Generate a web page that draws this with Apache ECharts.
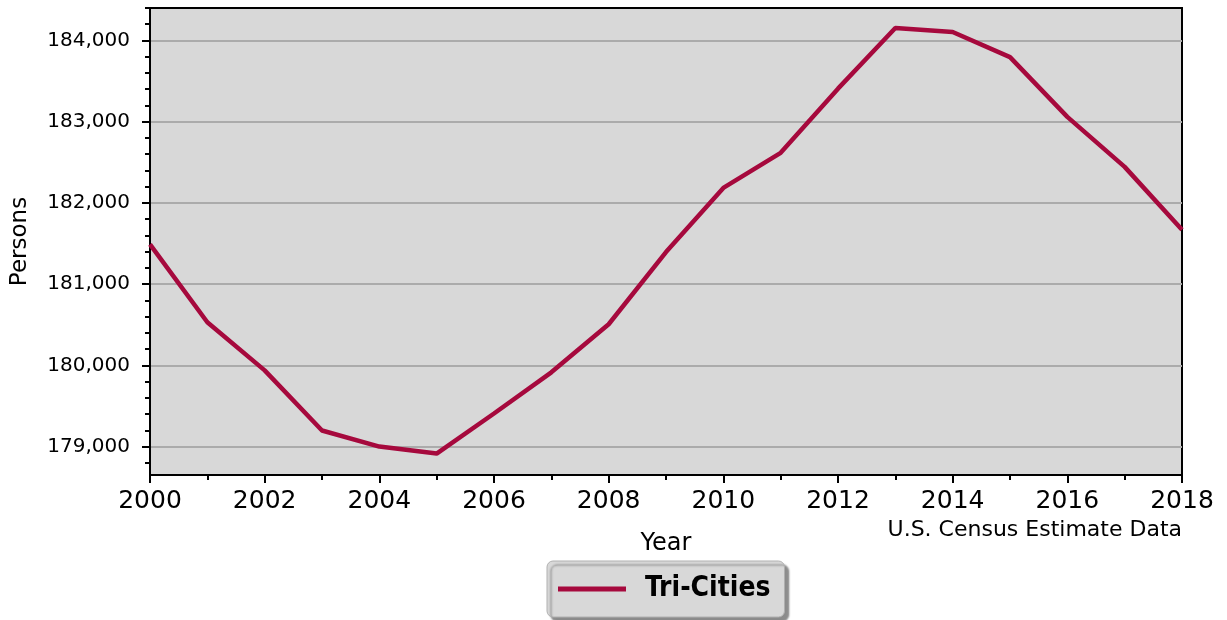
<!DOCTYPE html>
<html>
<head>
<meta charset="utf-8">
<script src="https://cdn.jsdelivr.net/npm/echarts@6/dist/echarts.min.js"></script>
<style>
  html, body { margin: 0; padding: 0; background: #fff; }
  #chart { width: 1227px; height: 620px; }
</style>
</head>
<body>
<div id="chart"></div>
<script>
const years = [2000, 2001, 2002, 2003, 2004, 2005, 2006, 2007, 2008, 2009,
  2010, 2011, 2012, 2013, 2014, 2015, 2016, 2017, 2018];
const persons = [181490, 180531, 179938, 179198, 179000, 178914, 179407, 179914, 180506, 181395,
  182185, 182617, 183407, 184153, 184104, 183795, 183059, 182444, 181670];
const yMajorTicks = [179000, 180000, 181000, 182000, 183000, 184000];
const yMinorTicks = [];
for (let v = 178800; v <= 184400; v += 200) yMinorTicks.push(v);

const yMin = 178650;
const yMax = 184400;
const lineColor = '#a6093d';

const chart = echarts.init(document.getElementById('chart'));

chart.setOption({
  animation: false,
  grid: {
    left: 150,
    right: 45,
    top: 8,
    bottom: 145,
    show: true,
    backgroundColor: '#d8d8d8',
    borderColor: '#000',
    borderWidth: 2,
  },
  legend: {
    data: ['Tri-Cities'],
    left: 547,
    top: 561,
    icon: 'rect',
    itemWidth: 68,
    itemHeight: 5,
    padding: [12, 14, 12, 11],
    backgroundColor: '#d8d8d8',
    borderColor: '#b0b0b0',
    borderWidth: 1,
    borderRadius: 6,
    shadowColor: 'rgba(0,0,0,0.45)',
    shadowOffsetX: 4,
    shadowOffsetY: 4,
    shadowBlur: 2,
    textStyle: {
      fontFamily: 'DejaVu Sans Condensed',
      fontWeight: 'bold',
      fontSize: 28,
      color: '#000',
      lineHeight: 32,
      padding: [0, 0, 0, 14],
    },
  },
  graphic: [
    {
      type: 'text',
      right: 45,
      top: 519,
      style: {
        text: 'U.S. Census Estimate Data',
        font: '22px "DejaVu Sans"',
        fill: '#000',
      },
    },
  ],
  xAxis: {
    type: 'value',
    min: 2000,
    max: 2018,
    interval: 2,
    name: 'Year',
    nameLocation: 'middle',
    nameGap: 57,
    nameTextStyle: { fontFamily: 'DejaVu Sans', fontSize: 24, color: '#000' },
    axisLine: { lineStyle: { color: '#000', width: 2 } },
    axisTick: { length: 8, lineStyle: { color: '#000', width: 2 } },
    minorTick: { show: true, splitNumber: 2, length: 5, lineStyle: { color: '#000', width: 2 } },
    splitLine: { show: false },
    axisLabel: {
      margin: 14,
      fontFamily: 'DejaVu Sans',
      fontSize: 25,
      color: '#000',
      formatter: (v) => String(v),
    },
  },
  yAxis: [
    {
      type: 'value',
      min: yMin,
      max: yMax,
      name: 'Persons',
      nameLocation: 'middle',
      nameGap: 118,
      nameTextStyle: { fontFamily: 'DejaVu Sans', fontSize: 23, color: '#000' },
      axisLine: { show: true, lineStyle: { color: '#000', width: 2 } },
      axisTick: { show: true, length: 8, customValues: yMajorTicks, lineStyle: { color: '#000', width: 2 } },
      axisLabel: {
        customValues: yMajorTicks,
        margin: 20,
        fontFamily: 'DejaVu Sans',
        fontSize: 20,
        color: '#000',
        formatter: (v) => v.toLocaleString('en-US'),
      },
      splitLine: { show: true, lineStyle: { color: '#ababab', width: 2 } },
    },
    {
      type: 'value',
      min: yMin,
      max: yMax,
      position: 'left',
      axisLine: { show: true, lineStyle: { color: '#000', width: 2 } },
      axisTick: { show: true, length: 5, customValues: yMinorTicks, lineStyle: { color: '#000', width: 2 } },
      axisLabel: { show: false },
      splitLine: { show: false },
    },
  ],
  series: [
    {
      name: 'Tri-Cities',
      type: 'line',
      data: years.map((y, i) => [y, persons[i]]),
      showSymbol: false,
      symbol: 'none',
      lineStyle: { color: lineColor, width: 4.5 },
      itemStyle: { color: lineColor },
    },
  ],
});
</script>
</body>
</html>
